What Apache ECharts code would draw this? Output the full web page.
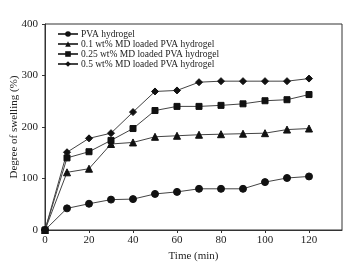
<!DOCTYPE html>
<html>
<head>
<meta charset="utf-8">
<script src="https://cdn.jsdelivr.net/npm/echarts@6/dist/echarts.min.js"></script>
<style>
  html, body { margin: 0; padding: 0; background: #fff; }
  #main { width: 347px; height: 264px; }
</style>
</head>
<body>
<div id="main"></div>
<script>
// time points (min)
var times = [0, 10, 20, 30, 40, 50, 60, 70, 80, 90, 100, 110, 120];
var pva    = [0, 42, 51, 59, 60, 70, 74, 80, 80, 80, 93, 101, 104];
var md01   = [0, 112, 119, 167, 170, 181, 183, 185, 186, 187, 188, 195, 197];
var md025  = [0, 140, 152, 174, 197, 232, 240, 240, 242, 245, 251, 253, 263];
var md05   = [0, 151, 178, 188, 229, 269, 271, 287, 289, 289, 289, 289, 294];
var seriesNames = ['PVA hydrogel', '0.1 wt% MD loaded PVA hydrogel',
  '0.25 wt% MD loaded PVA hydrogel', '0.5 wt% MD loaded PVA hydrogel'];
var symbols = ['circle', 'triangle', 'rect', 'diamond'];
var symbolSizes = [7, 7, 6, 7];

var font = 'Liberation Serif';
var ink = '#222';

function pairs(vals) {
  return times.map(function (t, i) { return [t, vals[i]]; });
}

var myChart = echarts.init(document.getElementById('main'));
var option = {
  animation: false,
  textStyle: { fontFamily: font, color: ink },
  grid: {
    left: 45, right: 5, top: 24, bottom: 34,
    containLabel: false, outerBoundsMode: 'none',
    show: true, borderColor: '#333', borderWidth: 1
  },
  legend: {
    left: 52, top: 24, orient: 'vertical',
    itemGap: 0, itemWidth: 20, itemHeight: 7,
    textStyle: { fontFamily: font, fontSize: 9.5, color: ink, padding: [0, 0, 0, -2] },
    data: seriesNames
  },
  xAxis: {
    type: 'value', min: 0, max: 135, interval: 20,
    name: 'Time (min)', nameLocation: 'middle', nameGap: 21, nameMoveOverlap: false,
    nameTextStyle: { fontFamily: font, fontSize: 11, color: ink },
    axisLine: { lineStyle: { color: '#333' } },
    axisTick: { length: 3, lineStyle: { color: '#333' } },
    axisLabel: { showMaxLabel: false, fontFamily: font, fontSize: 11, color: ink, margin: 5 },
    splitLine: { show: false }
  },
  yAxis: {
    type: 'value', min: 0, max: 400, interval: 100,
    name: 'Degree of swelling (%)', nameLocation: 'middle', nameGap: 25, nameMoveOverlap: false,
    nameTextStyle: { fontFamily: font, fontSize: 11, color: ink },
    axisLine: { show: true, lineStyle: { color: '#333' } },
    axisTick: { show: true, length: 3, lineStyle: { color: '#333' } },
    axisLabel: { fontFamily: font, fontSize: 11, color: ink, margin: 7 },
    splitLine: { show: false }
  },
  series: [pva, md01, md025, md05].map(function (vals, i) {
    return {
      name: seriesNames[i], type: 'line',
      data: pairs(vals),
      symbol: symbols[i], symbolSize: symbolSizes[i],
      showAllSymbol: true,
      lineStyle: { color: '#444', width: 1 },
      itemStyle: { color: '#111', borderColor: '#111' }
    };
  })
};
myChart.setOption(option);
</script>
</body>
</html>
